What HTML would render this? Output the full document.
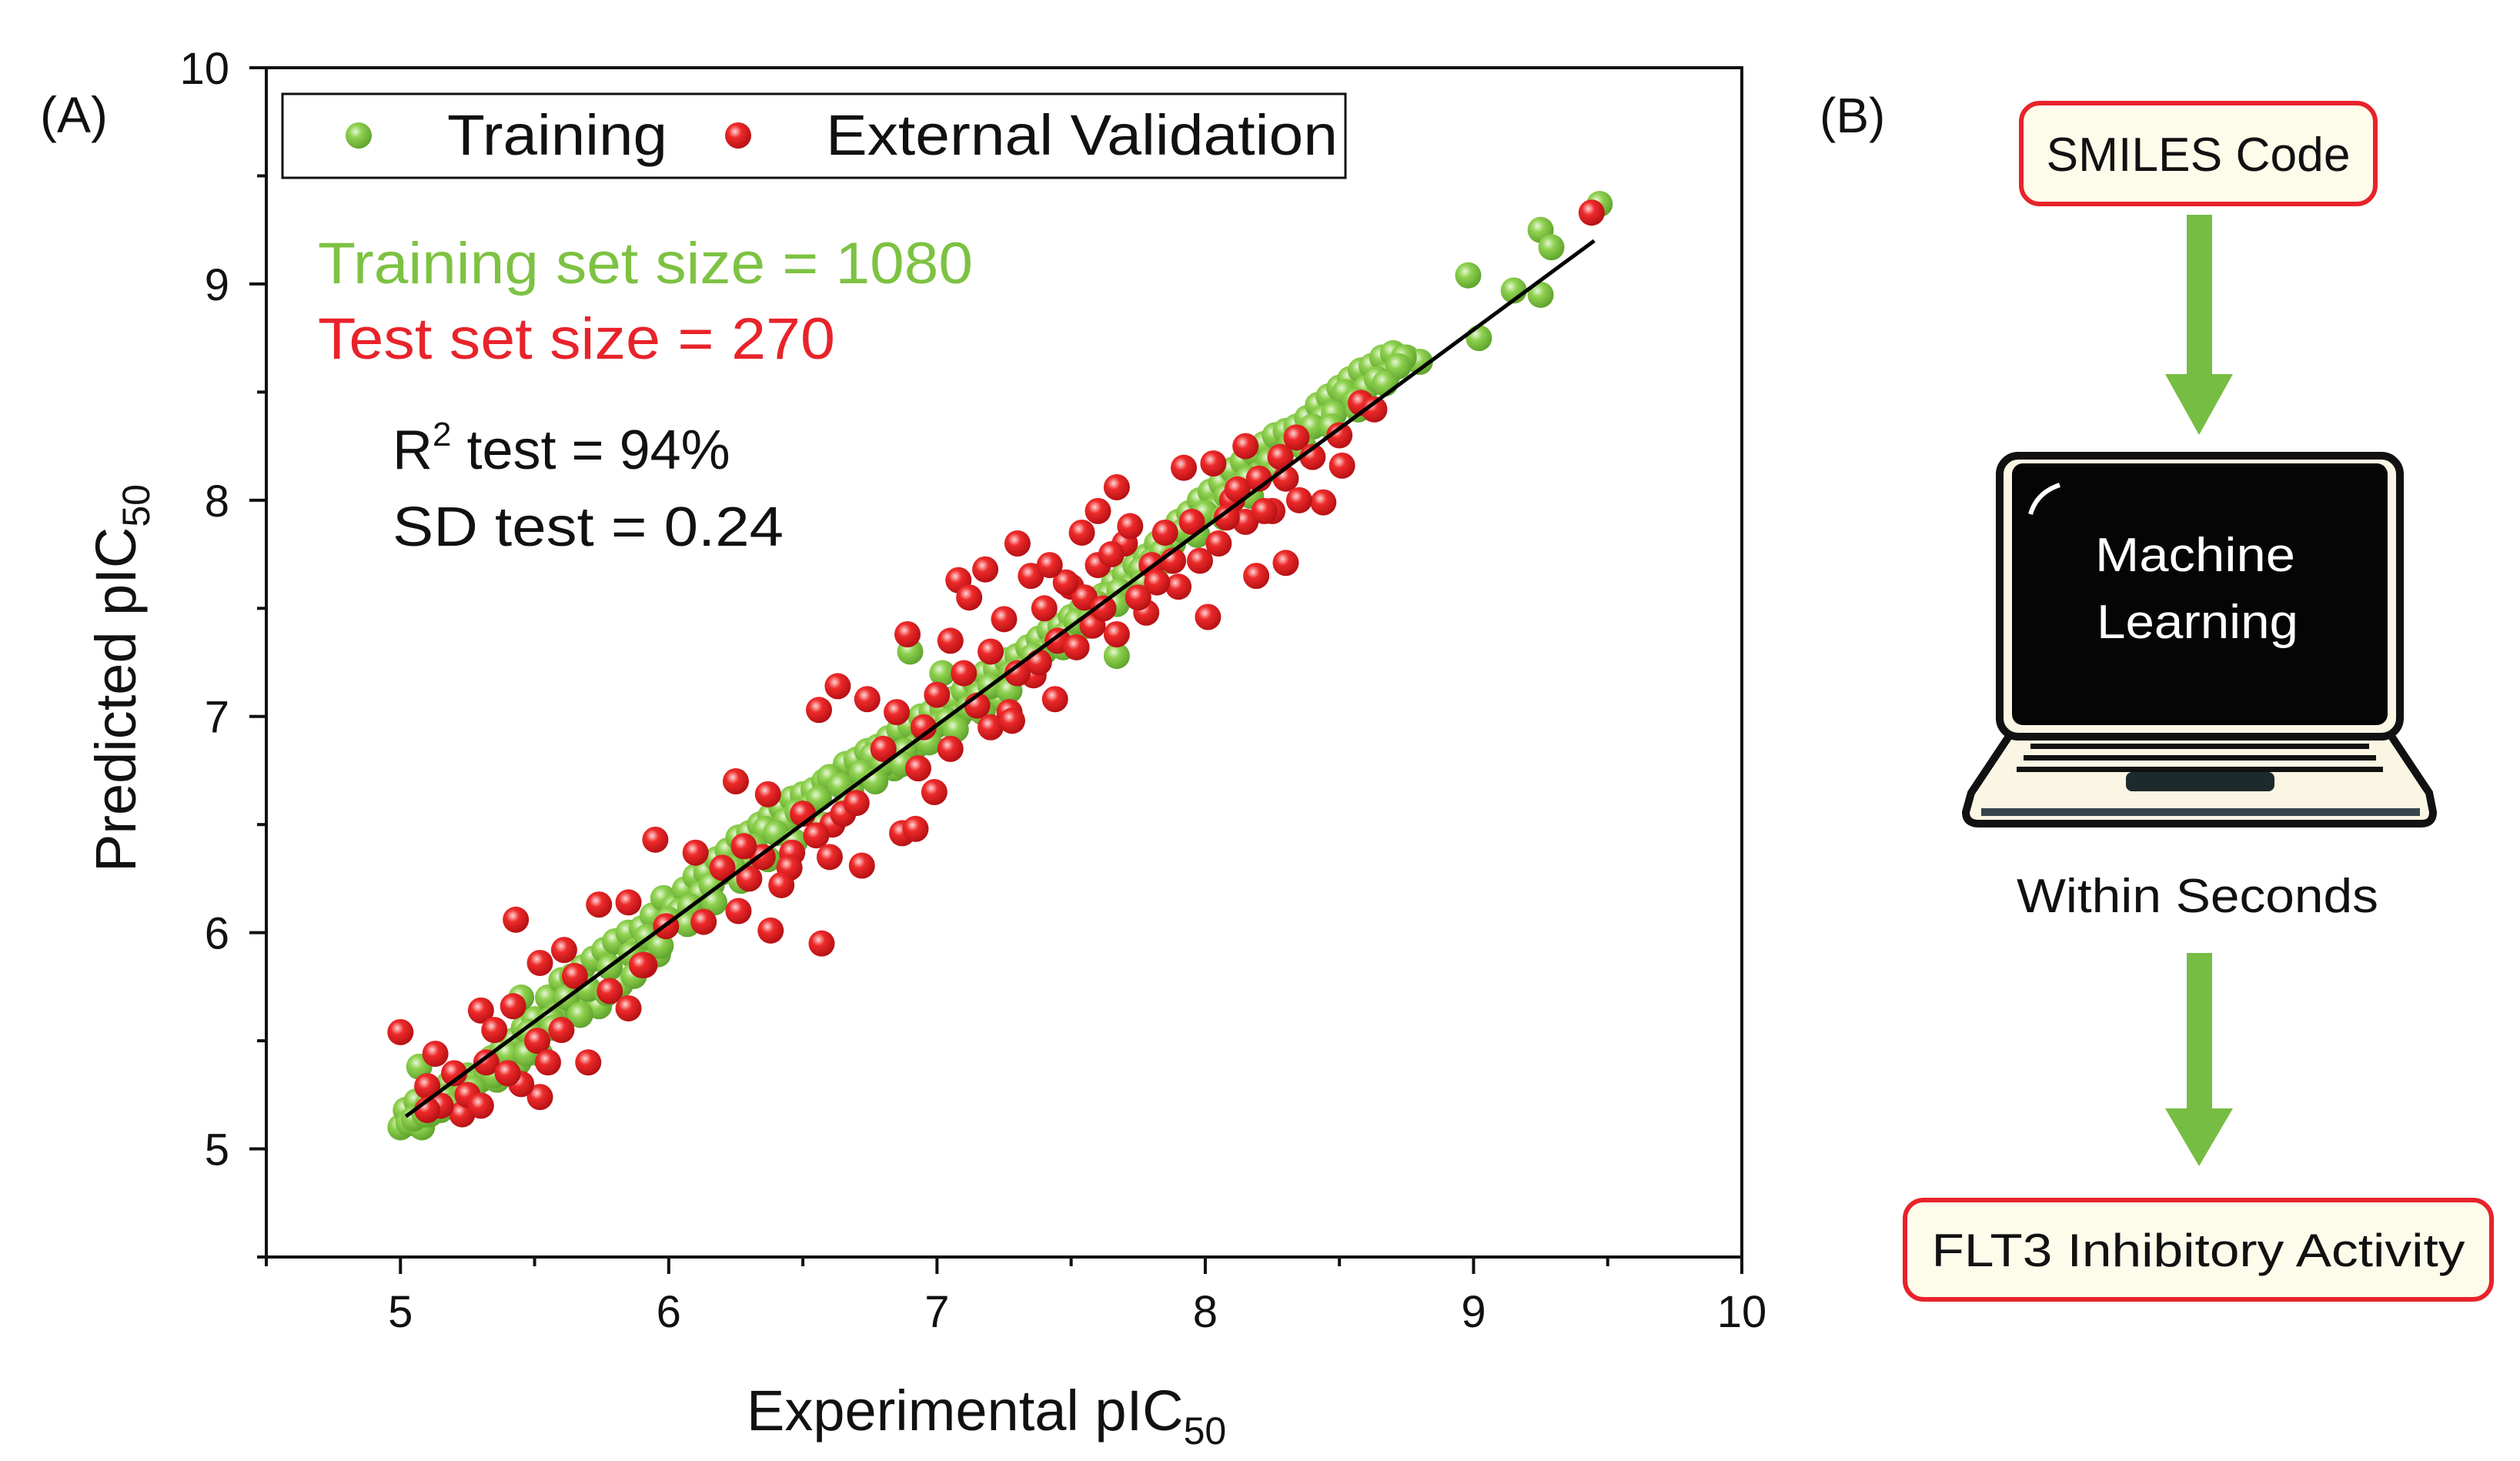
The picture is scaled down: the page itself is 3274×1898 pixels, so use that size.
<!DOCTYPE html>
<html><head><meta charset="utf-8"><style>
html,body{margin:0;padding:0;background:#fff;}
svg{display:block;font-family:"Liberation Sans",sans-serif;}
</style></head><body>
<svg id="fig" width="3274" height="1898" viewBox="0 0 3274 1898" xmlns="http://www.w3.org/2000/svg">
<defs>
<radialGradient id="gG" cx="0.38" cy="0.35" r="0.7"><stop offset="0" stop-color="#e6f7d6"/><stop offset="0.35" stop-color="#8fd14f"/><stop offset="1" stop-color="#5aa02a"/></radialGradient>
<radialGradient id="gR" cx="0.38" cy="0.35" r="0.7"><stop offset="0" stop-color="#ffd6d6"/><stop offset="0.35" stop-color="#ee2a2a"/><stop offset="1" stop-color="#b00e12"/></radialGradient>
</defs>
<rect x="0" y="0" width="3274" height="1898" fill="#fff"/>
<text x="52" y="172" font-size="66" fill="#111">(A)</text>
<g id="plot"></g>
<g transform="translate(-14,0)">
<text x="2378" y="172" font-size="64" fill="#111">(B)</text>
<rect x="2640" y="134" width="460" height="131" rx="24" fill="#fdfbea" stroke="#e8232a" stroke-width="6"/>
<text x="2870" y="222" font-size="62" text-anchor="middle" fill="#111" textLength="395" lengthAdjust="spacingAndGlyphs">SMILES Code</text>
<polygon points="2855,279 2888,279 2888,486 2915,486 2871,565 2827,486 2855,486" fill="#76bd43"/>
<g>
<path d="M2575,1030 L2625,955 L3120,955 L3170,1030 L3175,1055 Q3175,1070 3160,1070 L2585,1070 Q2568,1070 2568,1055 Z" fill="#fbf6e4" stroke="#111" stroke-width="10"/>
<rect x="2588" y="1050" width="570" height="10" fill="#34454a"/>
<rect x="2652" y="966" width="440" height="7" fill="#111"/>
<rect x="2643" y="981" width="458" height="7" fill="#111"/>
<rect x="2634" y="996" width="476" height="7" fill="#111"/>
<rect x="2776" y="1003" width="193" height="25" rx="8" fill="#1d2a2c"/>
<rect x="2612" y="592" width="520" height="365" rx="24" fill="#fbf6e4" stroke="#111" stroke-width="10"/>
<rect x="2628" y="602" width="488" height="340" rx="14" fill="#050505"/>
<path d="M2652,668 Q2660,640 2690,630" fill="none" stroke="#fff" stroke-width="6"/>
<text x="2866" y="742" font-size="62" text-anchor="middle" fill="#fff" textLength="260" lengthAdjust="spacingAndGlyphs">Machine</text>
<text x="2869" y="829" font-size="62" text-anchor="middle" fill="#fff" textLength="262" lengthAdjust="spacingAndGlyphs">Learning</text>
</g>
<text x="2869" y="1185" font-size="62" text-anchor="middle" fill="#111" textLength="470" lengthAdjust="spacingAndGlyphs">Within Seconds</text>
<polygon points="2855,1238 2888,1238 2888,1440 2915,1440 2871,1515 2827,1440 2855,1440" fill="#76bd43"/>
<rect x="2489" y="1559" width="762" height="129" rx="24" fill="#fdfbea" stroke="#e8232a" stroke-width="6"/>
<text x="2870" y="1645" font-size="60" text-anchor="middle" fill="#111" textLength="693" lengthAdjust="spacingAndGlyphs">FLT3 Inhibitory Activity</text>
</g>
</svg>
<script>
const xTicks=[5,6,7,8,9,10];
const yTicks=[5,6,7,8,9,10];
const trainX=[5.00,5.02,5.04,5.06,5.08,5.10,5.12,5.15,5.18,5.20,5.25,5.30,5.34,5.38,5.42,5.46,5.50,5.55,5.60,5.64,5.68,5.72,5.76,5.80,5.85,5.90,5.94,5.98,6.02,6.06,6.10,6.14,6.18,6.22,6.26,6.30,6.34,6.38,6.42,6.46,6.50,6.54,6.58,6.62,6.66,6.70,6.74,6.78,6.82,6.86,6.90,6.94,6.98,7.02,7.06,7.10,7.14,7.18,7.22,7.26,7.30,7.34,7.38,7.42,7.46,7.50,7.54,7.58,7.62,7.66,7.70,7.74,7.78,7.82,7.86,7.90,7.94,7.98,8.02,8.06,8.10,8.14,8.18,8.22,8.26,8.30,8.34,8.38,8.42,8.46,8.50,8.54,8.58,8.62,8.66,8.70,8.75,8.80,
5.03,5.08,5.14,5.22,5.28,5.36,5.44,5.52,5.58,5.66,5.74,5.82,5.88,5.96,6.04,6.12,6.20,6.28,6.36,6.44,6.52,6.60,6.68,6.76,6.84,6.92,7.00,7.08,7.16,7.24,7.32,7.40,7.48,7.56,7.64,7.72,7.80,7.88,7.96,8.04,8.12,8.20,8.28,8.36,8.44,8.52,8.60,8.68,8.74,
5.05,5.11,5.17,5.24,5.32,5.40,5.48,5.56,5.62,5.70,5.78,5.86,5.92,6.00,6.08,6.16,6.24,6.32,6.40,6.48,6.56,6.64,6.72,6.80,6.88,6.96,7.04,7.12,7.20,7.28,7.36,7.44,7.52,7.60,7.68,7.76,7.84,7.92,8.00,8.08,8.16,8.24,8.32,8.40,8.48,8.56,8.64,8.72,
5.09,5.19,5.27,5.35,5.47,5.57,5.67,5.77,5.87,5.97,6.07,6.17,6.27,6.37,6.47,6.57,6.67,6.77,6.87,6.97,7.07,7.17,7.27,7.37,7.47,7.57,7.67,7.77,7.87,7.97,8.07,8.17,8.27,8.37,8.47,8.57,8.67,
8.98,9.02,9.15,9.25,9.25,9.29,9.47,7.67,5.07,6.90,7.02,5.45];
const trainY=[5.10,5.18,5.12,5.22,5.15,5.20,5.26,5.18,5.30,5.24,5.34,5.32,5.42,5.46,5.50,5.56,5.60,5.70,5.78,5.80,5.84,5.88,5.92,5.96,6.00,6.02,6.08,6.16,6.12,6.20,6.26,6.28,6.34,6.38,6.44,6.46,6.50,6.54,6.58,6.62,6.64,6.66,6.70,6.72,6.78,6.80,6.84,6.86,6.90,6.94,6.96,7.00,7.02,7.04,7.08,7.12,7.16,7.20,7.22,7.26,7.28,7.32,7.36,7.40,7.42,7.46,7.50,7.54,7.56,7.62,7.66,7.70,7.74,7.80,7.84,7.90,7.94,8.00,8.04,8.08,8.14,8.18,8.22,8.26,8.30,8.32,8.34,8.38,8.44,8.48,8.52,8.56,8.60,8.62,8.66,8.68,8.66,8.64,
5.12,5.10,5.20,5.18,5.30,5.32,5.40,5.44,5.62,5.68,5.66,5.76,5.92,5.90,6.10,6.18,6.28,6.32,6.48,6.52,6.58,6.72,6.66,6.82,6.76,6.86,6.96,7.00,7.10,7.08,7.22,7.30,7.38,7.42,7.56,7.60,7.72,7.80,7.86,7.96,8.06,8.12,8.20,8.30,8.38,8.50,8.52,8.58,8.66,
5.14,5.16,5.24,5.26,5.36,5.44,5.54,5.60,5.70,5.74,5.84,5.90,5.98,6.06,6.12,6.22,6.30,6.40,6.46,6.56,6.62,6.68,6.74,6.78,6.84,6.90,6.98,7.04,7.14,7.20,7.28,7.34,7.44,7.52,7.58,7.68,7.76,7.86,7.94,8.02,8.10,8.18,8.26,8.34,8.40,8.46,8.56,8.62,
5.16,5.20,5.28,5.34,5.44,5.56,5.62,5.72,5.80,5.94,6.04,6.14,6.24,6.34,6.42,6.50,6.60,6.70,6.78,6.88,6.94,7.02,7.12,7.24,7.32,7.44,7.52,7.62,7.72,7.84,7.92,8.02,8.14,8.24,8.34,8.42,8.54,
9.04,8.75,8.97,8.95,9.25,9.17,9.37,7.28,5.38,7.30,7.20,5.70];
const testX=[5.00,5.13,5.10,5.23,5.30,5.32,5.43,5.42,5.52,5.51,5.52,5.70,5.61,5.74,5.85,5.78,5.91,5.95,5.99,6.10,6.13,6.25,6.26,6.38,6.37,6.57,6.56,6.63,6.46,6.61,6.72,6.74,6.89,6.87,6.92,6.99,6.93,7.08,7.18,7.30,7.27,7.44,7.36,7.54,7.67,7.67,7.78,7.92,8.03,8.01,8.15,8.19,8.30,8.34,8.44,8.51,8.58,8.63,9.44,
7.20,7.30,7.40,7.50,7.55,7.60,7.70,7.80,7.85,7.90,7.95,8.05,8.10,8.20,8.25,8.30,8.40,8.50,7.25,7.35,7.45,7.15,7.10,7.00,6.95,7.05,6.80,6.65,6.55,6.45,6.35,6.30,6.20,6.60,6.50,5.90,5.85,5.65,5.60,5.45,5.35,5.25,5.20,5.15,5.10,5.30,7.60,7.75,8.15,8.35,7.65,7.20,7.28,7.05,7.12,
7.38,7.48,7.58,7.72,7.82,7.98,8.08,8.28,7.42,7.52,7.62,7.88,8.12,8.22,6.85,6.70,6.42,6.28,5.55,5.40];
const testY=[5.54,5.44,5.29,5.16,5.64,5.40,6.06,5.66,5.86,5.50,5.24,5.40,5.92,6.13,6.14,5.73,5.85,6.43,6.03,6.37,6.05,6.70,6.10,6.01,6.64,5.95,7.03,7.14,6.37,6.50,6.31,7.08,7.38,6.46,6.48,6.65,6.76,7.63,7.68,7.80,7.02,7.08,7.19,7.85,8.06,7.38,7.48,8.15,8.17,7.46,8.25,7.65,7.71,8.29,7.99,8.16,8.45,8.42,9.33,
7.30,7.20,7.50,7.60,7.55,7.70,7.80,7.70,7.85,7.60,7.90,7.80,8.00,8.10,7.95,8.10,8.20,8.30,7.45,7.65,7.35,7.05,7.20,7.10,6.95,6.85,6.85,6.55,6.45,6.30,6.35,6.25,6.30,6.35,6.55,5.85,5.65,5.80,5.55,5.30,5.55,5.25,5.35,5.20,5.18,5.20,7.95,7.55,7.90,8.00,7.75,6.95,6.98,7.35,7.55,
7.25,7.62,7.42,7.88,7.62,7.72,7.92,8.20,7.70,7.32,7.50,7.72,8.05,7.95,7.02,6.60,6.22,6.40,5.40,5.35];
const fitLine=[[5.02,5.15],[9.45,9.20]];

const L=346,R=2263,T=88,B=1633,MIN=4.5,MAX=10;
const sx=v=>L+(v-MIN)/(MAX-MIN)*(R-L);
const sy=v=>B-(v-MIN)/(MAX-MIN)*(B-T);
const NS='http://www.w3.org/2000/svg';
const g=document.getElementById('plot');
function mk(tag,attrs,parent){const e=document.createElementNS(NS,tag);for(const k in attrs)e.setAttribute(k,attrs[k]);(parent||g).appendChild(e);return e;}

let frame=mk('rect',{x:L,y:T,width:R-L,height:B-T,fill:'#fff',stroke:'#111','stroke-width':4});



for(let v=4.5;v<=10.001;v+=0.5){
  const major=Math.abs(v-Math.round(v))<1e-6;
  const len=major?22:12;
  let tx=mk('line',{x1:sx(v),x2:sx(v),y1:B,y2:B+len,stroke:'#111','stroke-width':4});
  
  
  let ty=mk('line',{x1:L,x2:L-len,y1:sy(v),y2:sy(v),stroke:'#111','stroke-width':4});
  
  
}
xTicks.forEach(v=>{
  let t=mk('text',{x:sx(v),y:1724,'font-size':58,'text-anchor':'middle',fill:'#111'});
  t.textContent=v;
  
  
});
yTicks.forEach(v=>{
  let t=mk('text',{x:298,y:sy(v)+21,'font-size':58,'text-anchor':'end',fill:'#111'});
  t.textContent=v;
  
  
});

trainX.forEach((x,i)=>{
  let c=mk('circle',{cx:sx(x),cy:sy(trainY[i]),r:17,fill:'url(#gG)'});
  
  
});
testX.forEach((x,i)=>{
  let c=mk('circle',{cx:sx(x),cy:sy(testY[i]),r:17,fill:'url(#gR)'});
  
  
});
let fl=mk('line',{x1:sx(fitLine[0][0]),y1:sy(fitLine[0][1]),x2:sx(fitLine[1][0]),y2:sy(fitLine[1][1]),stroke:'#000','stroke-width':5});



let lg=mk('g',{});


mk('rect',{x:367,y:122,width:1381,height:109,fill:'#fff',stroke:'#111','stroke-width':3},lg);
let lg1=mk('circle',{cx:466,cy:176,r:17,fill:'url(#gG)'},lg);


let lt1=mk('text',{x:581,y:201,'font-size':74,fill:'#111',textLength:286,lengthAdjust:'spacingAndGlyphs'},lg);
lt1.textContent='Training';


let lg2=mk('circle',{cx:959,cy:176,r:17,fill:'url(#gR)'},lg);


let lt2=mk('text',{x:1073,y:201,'font-size':74,fill:'#111',textLength:665,lengthAdjust:'spacingAndGlyphs'},lg);
lt2.textContent='External Validation';



function txt(s,attrs,name){let t=mk('text',attrs);t.textContent=s;return t;}
txt('Training set size = 1080',{x:413,y:368,'font-size':76,fill:'#7dc242',textLength:851,lengthAdjust:'spacingAndGlyphs'},'training-size-annotation');
txt('Test set size = 270',{x:413,y:466,'font-size':76,fill:'#e8232a',textLength:672,lengthAdjust:'spacingAndGlyphs'},'test-size-annotation');
let r2=txt('',{x:510,y:609,'font-size':72,fill:'#111'},'r2-annotation');
r2.innerHTML='R<tspan dy="-30" font-size="44">2</tspan><tspan dy="30"> test = 94%</tspan>';
txt('SD test = 0.24',{x:510,y:709,'font-size':72,fill:'#111',textLength:508,lengthAdjust:'spacingAndGlyphs'},'sd-annotation');
let xt=txt('',{x:970,y:1858,'font-size':74,fill:'#111'},'x-axis-title');
xt.innerHTML='Experimental pIC<tspan dy="18" font-size="50">50</tspan>';
let yt=txt('',{x:0,y:0,'font-size':74,fill:'#111',transform:'translate(176,1133) rotate(-90)'},'y-axis-title');
yt.innerHTML='Predicted pIC<tspan dy="18" font-size="50">50</tspan>';
</script>
</body></html>
